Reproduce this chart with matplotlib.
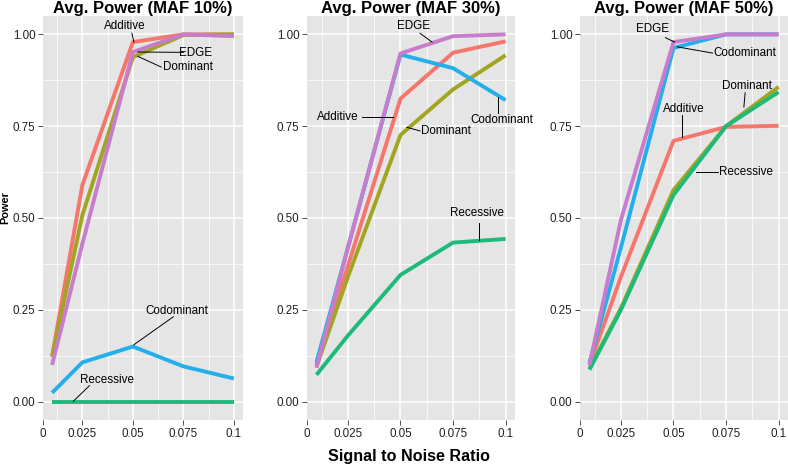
import matplotlib
matplotlib.use("Agg")
import matplotlib.pyplot as plt

plt.rcParams["font.family"] = ["Liberation Sans", "DejaVu Sans"]

BG = "#E5E5E5"
COLORS = {
    "Additive": "#F5766D",
    "Dominant": "#A2A522",
    "Recessive": "#1DBA7C",
    "Codominant": "#25AEEA",
    "EDGE": "#C77CCC",
}
MODELS = ["Additive", "Dominant", "Recessive", "Codominant", "EDGE"]

SNR = [0.01, 0.025, 0.05, 0.075, 0.1]
TITLES = ["Avg. Power (MAF 10%)", "Avg. Power (MAF 30%)", "Avg. Power (MAF 50%)"]

# power per model, one list per MAF panel
MAF10 = {
    "Additive":   [0.123, 0.59, 0.979, 1.0, 1.0],
    "Dominant":   [0.122, 0.508, 0.938, 0.998, 1.0],
    "Recessive":  [0.0, 0.0, 0.0, 0.0, 0.0],
    "Codominant": [0.024, 0.107, 0.150, 0.096, 0.063],
    "EDGE":       [0.10, 0.43, 0.952, 1.0, 0.995],
}
MAF30 = {
    "Additive":   [0.10, 0.37, 0.825, 0.95, 0.981],
    "Dominant":   [0.095, 0.34, 0.726, 0.85, 0.943],
    "Recessive":  [0.073, 0.18, 0.345, 0.433, 0.443],
    "Codominant": [0.107, 0.42, 0.945, 0.908, 0.821],
    "EDGE":       [0.092, 0.42, 0.948, 0.995, 1.0],
}
MAF50 = {
    "Additive":   [0.10, 0.34, 0.71, 0.748, 0.751],
    "Dominant":   [0.09, 0.255, 0.576, 0.75, 0.857],
    "Recessive":  [0.087, 0.25, 0.5625, 0.75, 0.843],
    "Codominant": [0.105, 0.42, 0.963, 1.0, 1.0],
    "EDGE":       [0.10, 0.495, 0.979, 1.0, 1.0],
}

XTICKS = [0.0055, 0.025, 0.05, 0.075, 0.1]
XTICKLABELS = ["0", "0.025", "0.05", "0.075", "0.1"]
YTICKS = [0.0, 0.25, 0.5, 0.75, 1.0]
YTICKLABELS = ["0.00", "0.25", "0.50", "0.75", "1.00"]

# labels: (text, text x, text y, segment x0, y0, x1, y1)
LABELS10 = [
    ("Additive",   0.046, 1.022, 0.0495, 1.003, 0.0505, 0.979),
    ("EDGE",       0.081, 0.949, 0.0525, 0.952, 0.075, 0.951),
    ("Dominant",   0.0773, 0.911, 0.0525, 0.940, 0.064, 0.911),
    ("Codominant", 0.0718, 0.247, 0.0505, 0.155, 0.070, 0.231),
    ("Recessive",  0.037, 0.058, 0.0205, 0.001, 0.0285, 0.0435),
]
LABELS30 = [
    ("EDGE",       0.0564, 1.022, 0.0593, 1.003, 0.065, 0.979),
    ("Additive",   0.0202, 0.774, 0.0317, 0.774, 0.0464, 0.774),
    ("Dominant",   0.0714, 0.737, 0.053, 0.747, 0.0593, 0.737),
    ("Codominant", 0.098, 0.766, 0.0966, 0.83, 0.0966, 0.787),
    ("Recessive",  0.0864, 0.514, 0.0875, 0.487, 0.0875, 0.440),
]
LABELS50 = [
    ("EDGE",       0.0401, 1.015, 0.0462, 0.991, 0.0505, 0.979),
    ("Codominant", 0.084, 0.949, 0.0518, 0.966, 0.0686, 0.949),
    ("Dominant",   0.0851, 0.859, 0.0841, 0.841, 0.0835, 0.802),
    ("Additive",   0.0548, 0.798, 0.0542, 0.780, 0.0542, 0.721),
    ("Recessive",  0.0846, 0.624, 0.0606, 0.624, 0.0712, 0.624),
]

W, H = 788, 467
PANELS = [(43, 243), (307, 515), (580, 788)]
TOP, BOTTOM = 16, 420


def draw_panel(ax, title, data, labels):
    ax.set_facecolor(BG)
    for s in ax.spines.values():
        s.set_visible(False)
    ax.set_xlim(0.0055, 0.1045)
    ax.set_ylim(-0.05, 1.05)
    for v in [0.0125, 0.0375, 0.0625, 0.0875]:
        ax.axvline(v, color="white", lw=0.5, zorder=0.5)
    for v in [0.125, 0.375, 0.625, 0.875]:
        ax.axhline(v, color="white", lw=0.5, zorder=0.5)
    for v in XTICKS[1:]:
        ax.axvline(v, color="white", lw=1.1, zorder=0.6)
    for v in YTICKS:
        ax.axhline(v, color="white", lw=1.1, zorder=0.6)
    for m in MODELS:
        ax.plot(SNR, data[m], color=COLORS[m], lw=2.8, solid_capstyle="butt", zorder=2)
    for txt, tx, ty, x0, y0, x1, y1 in labels:
        ax.plot([x0, x1], [y0, y1], color="black", lw=0.7, zorder=3)
        ax.text(tx, ty, txt, ha="center", va="center", fontsize=8.4,
                color="black", zorder=4, clip_on=False)
    ax.set_xticks(XTICKS)
    ax.set_xticklabels(XTICKLABELS)
    ax.set_yticks(YTICKS)
    ax.set_yticklabels(YTICKLABELS)
    ax.tick_params(length=3.5, width=0.6, color="#333333", labelsize=8.4,
                   labelcolor="#222222", pad=2)
    ax.set_title(title, fontsize=12, fontweight="bold", pad=1)


def main():
    fig = plt.figure(figsize=(W / 100, H / 100), dpi=100)
    datasets = [MAF10, MAF30, MAF50]
    labelsets = [LABELS10, LABELS30, LABELS50]
    for (l, r), title, data, labels in zip(PANELS, TITLES, datasets, labelsets):
        ax = fig.add_axes([l / W, 1 - BOTTOM / H, (r - l) / W, (BOTTOM - TOP) / H])
        draw_panel(ax, title, data, labels)
    fig.text(5 / W, 1 - 208 / H, "Power", rotation=90, ha="center", va="center",
             fontsize=7.9, fontweight="bold")
    fig.text(409 / W, 1 - 457 / H, "Signal to Noise Ratio", ha="center", va="center",
             fontsize=11.6, fontweight="bold")
    fig.savefig("out.png", dpi=100)


if __name__ == "__main__":
    main()
